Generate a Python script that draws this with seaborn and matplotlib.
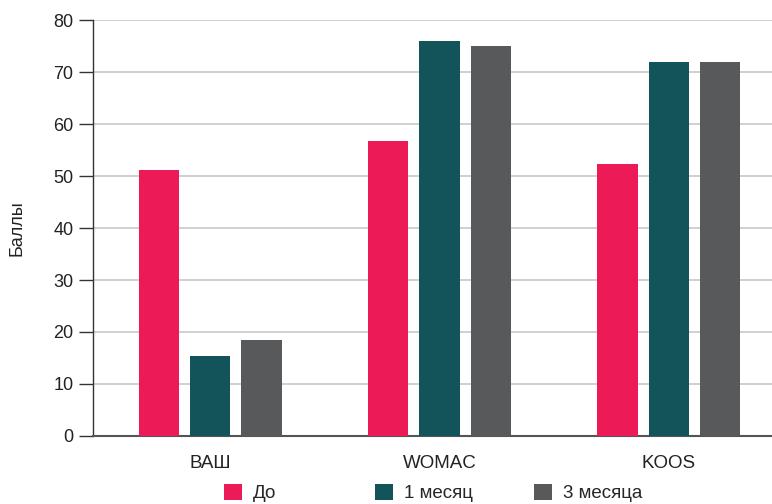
import matplotlib
matplotlib.use("Agg")
import matplotlib.pyplot as plt
import seaborn as sns
import pandas as pd
from matplotlib.patches import Patch

categories = ["ВАШ", "WOMAC", "KOOS"]
series = ["До", "1 месяц", "3 месяца"]
values_do = [51.2, 56.8, 52.3]
values_1m = [15.3, 76.0, 72.0]
values_3m = [18.4, 75.0, 72.0]
colors = ["#EC1A56", "#13545A", "#58595B"]
yticks = [0, 10, 20, 30, 40, 50, 60, 70, 80]

rows = []
for s, vals in zip(series, [values_do, values_1m, values_3m]):
    for c, v in zip(categories, vals):
        rows.append({"cat": c, "series": s, "val": v})
df = pd.DataFrame(rows)

sns.set_theme(style="white")
plt.rcParams["font.family"] = ["Liberation Sans", "DejaVu Sans"]

fig = plt.figure(figsize=(7.72, 5.04), dpi=100)
ax = fig.add_axes([93/772, 1-436/504, (772-93)/772, (436-20)/504])

sns.barplot(data=df, x="cat", y="val", hue="series", palette=colors,
            order=categories, hue_order=series, width=0.67, gap=0.21,
            saturation=1, ax=ax, legend=False, zorder=3, linewidth=0,
            edgecolor="none")

ax.set_ylim(0, 80)
ax.set_yticks(yticks)
ax.set_xlim(-0.51, 2.449)
ax.grid(axis="y", color="#C8C8C8", linewidth=1.2, zorder=0)
ax.set_axisbelow(True)
for sp in ["top", "right"]:
    ax.spines[sp].set_visible(False)
ax.spines["left"].set_color("#333333")
ax.spines["left"].set_linewidth(1.0)
ax.spines["bottom"].set_color("#555555")
ax.spines["bottom"].set_linewidth(1.5)
ax.tick_params(axis="y", length=10, width=1, color="#333333", labelsize=13, labelcolor="#222222", pad=4, left=True)
ax.tick_params(axis="x", length=0, labelsize=13.5, labelcolor="#222222", pad=14)
ax.set_xlabel("")
ax.set_ylabel("Баллы", fontsize=13, color="#222222", labelpad=20)

leg_x = [224, 375, 534]
for s, c, x in zip(series, colors, leg_x):
    fig.legend([Patch(facecolor=c, edgecolor="none")], [s], loc="center left",
               bbox_to_anchor=(x/772, 1 - 493/504), bbox_transform=fig.transFigure,
               frameon=False, fontsize=13.5, handlelength=0.95, handleheight=0.95,
               handletextpad=0.6, borderpad=0, borderaxespad=0)

fig.savefig("out.png", dpi=100)
